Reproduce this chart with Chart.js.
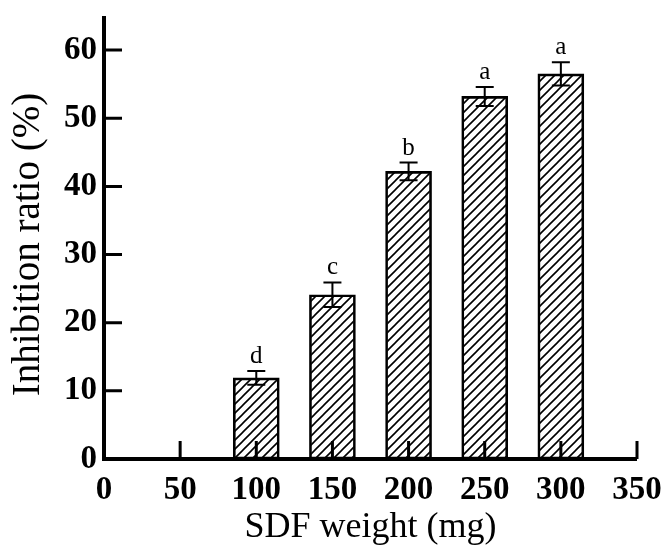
<!DOCTYPE html>
<html>
<head>
<meta charset="utf-8">
<script src="https://cdn.jsdelivr.net/npm/chart.js@4.4.0/dist/chart.umd.min.js"></script>
<style>
  html, body { margin: 0; padding: 0; background: #fff; }
  #box { width: 664px; height: 559px; }
</style>
</head>
<body>
<div id="box"><canvas id="grafico"></canvas></div>
<script>
// Dados
const doses = [100, 150, 200, 250, 300];
const inibicao = [11.9, 24.1, 42.2, 53.2, 56.5];
const erros = [1.0, 1.8, 1.3, 1.4, 1.7];
const letras = ["d", "c", "b", "a", "a"];
const ticksX = [0, 50, 100, 150, 200, 250, 300, 350];
const ticksY = [0, 10, 20, 30, 40, 50, 60];
const tituloY = "Inhibition ratio (%)";

const serif = "'Liberation Serif', 'Times New Roman', serif";

// Hachura diagonal (///) para as barras
function criarHachura() {
  const s = 9;
  const c = document.createElement("canvas");
  c.width = s;
  c.height = s;
  const g = c.getContext("2d");
  g.strokeStyle = "#000";
  g.lineWidth = 1.6;
  g.beginPath();
  g.moveTo(-1, s + 1);
  g.lineTo(s + 1, -1);
  g.moveTo(-1, 1);
  g.lineTo(1, -1);
  g.moveTo(s - 1, s + 1);
  g.lineTo(s + 1, s - 1);
  g.stroke();
  return g.createPattern(c, "repeat");
}

// Barras de erro, letras, titulo Y e marcas internas dos eixos
const extras = {
  id: "extras",
  afterDraw(chart) {
    const { ctx } = chart;
    const x = chart.scales.x;
    const y = chart.scales.y;
    ctx.save();
    ctx.strokeStyle = "#000";
    ctx.fillStyle = "#000";

    ctx.lineWidth = 2;
    doses.forEach((d, i) => {
      const px = x.getPixelForValue(d);
      const topo = y.getPixelForValue(inibicao[i] + erros[i]);
      const base = y.getPixelForValue(inibicao[i] - erros[i]);
      ctx.beginPath();
      ctx.moveTo(px, topo);
      ctx.lineTo(px, base);
      ctx.moveTo(px - 9, topo);
      ctx.lineTo(px + 9, topo);
      ctx.moveTo(px - 9, base);
      ctx.lineTo(px + 9, base);
      ctx.stroke();

      ctx.font = "25px " + serif;
      ctx.textAlign = "center";
      ctx.textBaseline = "alphabetic";
      ctx.fillText(letras[i], px, topo - 8);
    });

    // titulo do eixo Y (um pouco abaixo do centro, como no original)
    ctx.save();
    ctx.translate(29, (y.top + y.bottom) / 2 + 7);
    ctx.rotate(-Math.PI / 2);
    ctx.font = "39px " + serif;
    ctx.textAlign = "center";
    ctx.textBaseline = "middle";
    ctx.fillText(tituloY, 0, 0);
    ctx.restore();

    // marcas para dentro
    const comp = 18;
    ctx.lineWidth = 3;
    ctx.beginPath();
    ticksX.forEach((v) => {
      if (v === 0) return;
      const px = x.getPixelForValue(v);
      ctx.moveTo(px, y.bottom);
      ctx.lineTo(px, y.bottom - comp);
    });
    ticksY.forEach((v) => {
      if (v === 0) return;
      const py = y.getPixelForValue(v);
      ctx.moveTo(x.left, py);
      ctx.lineTo(x.left + comp, py);
    });
    ctx.stroke();

    // eixos
    ctx.lineWidth = 4;
    ctx.beginPath();
    ctx.moveTo(x.left, y.top);
    ctx.lineTo(x.left, y.bottom);
    ctx.lineTo(x.right, y.bottom);
    ctx.stroke();
    ctx.restore();
  },
};

const config = {
  type: "bar",
  data: {
    datasets: [
      {
        data: doses.map((d, i) => ({ x: d, y: inibicao[i] })),
        backgroundColor: criarHachura(),
        borderColor: "#000",
        borderWidth: 2,
        borderSkipped: false,
        barThickness: 46,
      },
    ],
  },
  options: {
    responsive: true,
    maintainAspectRatio: false,
    animation: false,
    layout: { padding: { top: 16, right: 27, left: 0, bottom: 0 } },
    plugins: {
      legend: { display: false },
      tooltip: { enabled: false },
    },
    scales: {
      x: {
        type: "linear",
        min: 0,
        max: 350,
        offset: false,
        afterBuildTicks: (s) => {
          s.ticks = ticksX.map((v) => ({ value: v }));
        },
        afterFit: (s) => {
          s.height = 100;
          s.paddingLeft = 0;
          s.paddingRight = 0;
        },
        grid: { display: false, drawTicks: false, offset: false },
        border: { display: false },
        ticks: {
          color: "#000",
          padding: 12,
          autoSkip: false,
          maxRotation: 0,
          font: { family: serif, size: 33, weight: "bold" },
        },
        title: {
          display: true,
          text: "SDF weight (mg)",
          color: "#000",
          font: { family: serif, size: 36 },
          padding: { top: 0, bottom: 10 },
        },
      },
      y: {
        min: 0,
        max: 65,
        afterBuildTicks: (s) => {
          s.ticks = ticksY.map((v) => ({ value: v }));
        },
        afterFit: (s) => {
          s.width = 104;
          s.paddingTop = 0;
          s.paddingBottom = 0;
        },
        grid: { display: false, drawTicks: false },
        border: { display: false },
        ticks: {
          color: "#000",
          padding: 7,
          font: { family: serif, size: 33, weight: "bold" },
        },
      },
    },
  },
  plugins: [extras],
};

const ctx = document.getElementById("grafico").getContext("2d");
const grafico = new Chart(ctx, config);
</script>
</body>
</html>
